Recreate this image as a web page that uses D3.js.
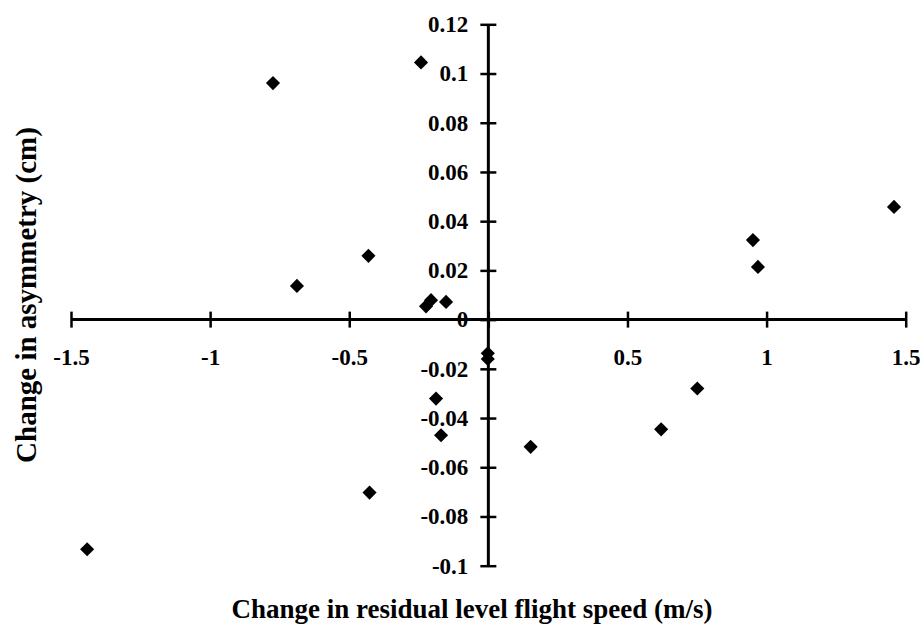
<!DOCTYPE html>
<html>
<head>
<meta charset="utf-8">
<script src="https://cdn.jsdelivr.net/npm/d3@7"></script>
<style>
    body { margin: 0; background: #fff; }
    svg { display: block; }
</style>
</head>
<body>
<div id="chart"></div>
<script>
// Scatter points
const xValues = [-1.442, -0.774, -0.688, -0.431, -0.427, -0.242, -0.224, -0.206, -0.152, -0.002, -0.002, -0.188, -0.170, 0.152, 0.621, 0.751, 0.951, 0.969, 1.458];
const yValues = [-0.0933, 0.0961, 0.0137, 0.0259, -0.0703, 0.1045, 0.0054, 0.0079, 0.0072, -0.0137, -0.0160, -0.0321, -0.0470, -0.0517, -0.0446, -0.0280, 0.0323, 0.0214, 0.0458];

// Tick values
const xTicks = [-1.5, -1, -0.5, 0, 0.5, 1, 1.5];
const yTicks = [-0.1, -0.08, -0.06, -0.04, -0.02, 0, 0.02, 0.04, 0.06, 0.08, 0.1, 0.12];

const xTitle = "Change in residual level flight speed (m/s)";
const yTitle = "Change in asymmetry (cm)";

const data = xValues.map((d, i) => ({x: d, y: yValues[i]}));

const width = 922, height = 627;
const serif = "'Liberation Serif', 'DejaVu Serif', serif";

const svg = d3.select("#chart")
    .append("svg")
    .attr("width", width)
    .attr("height", height)
    .style("font-family", serif);

// Scales (pixel ranges)
const x = d3.scaleLinear().domain([-1.5, 1.5]).range([71, 905.7]);
const y = d3.scaleLinear().domain([-0.1, 0.12]).range([565.7, 24.3]);

// x axis crossing at y = 0
const xAxis = svg.append("g")
    .attr("transform", `translate(0, ${y(0)})`)
    .call(d3.axisBottom(x)
        .tickValues(xTicks)
        .tickSize(8)
        .tickPadding(21)
        .tickFormat(d => d === 0 ? "" : String(d)));

xAxis.select(".domain").attr("stroke-width", 3).attr("d", `M${x(-1.5)},0H${x(1.5)}`);
xAxis.selectAll(".tick line").attr("y1", -8).attr("stroke-width", 2.5);
xAxis.selectAll(".tick text")
    .style("font-family", serif)
    .style("font-size", "23px")
    .style("font-weight", "bold")
    .attr("fill", "#000");

// y axis crossing at x = 0
const yAxis = svg.append("g")
    .attr("transform", `translate(${x(0)}, 0)`)
    .call(d3.axisLeft(y)
        .tickValues(yTicks)
        .tickSize(8)
        .tickPadding(12)
        .tickFormat(d => String(+d.toFixed(2))));

yAxis.select(".domain").attr("stroke-width", 3).attr("d", `M0,${y(0.12)}V${y(-0.1)}`);
yAxis.selectAll(".tick line").attr("x1", 8).attr("stroke-width", 2.5);
yAxis.selectAll(".tick text")
    .style("font-family", serif)
    .style("font-size", "23px")
    .style("font-weight", "bold")
    .attr("fill", "#000");

// Diamond markers
svg.append("g")
    .selectAll("path")
    .data(data)
    .enter()
    .append("path")
    .attr("d", d3.symbol().type(d3.symbolSquare).size(100))
    .attr("transform", d => `translate(${x(d.x)}, ${y(d.y)}) rotate(45)`)
    .attr("fill", "#000");

// Axis titles
svg.append("text")
    .attr("x", 472)
    .attr("y", 618)
    .attr("text-anchor", "middle")
    .style("font-size", "27px")
    .style("font-weight", "bold")
    .text(xTitle);

svg.append("text")
    .attr("transform", "translate(36, 295) rotate(-90)")
    .attr("text-anchor", "middle")
    .style("font-size", "29px")
    .style("font-weight", "bold")
    .text(yTitle);
</script>
</body>
</html>
